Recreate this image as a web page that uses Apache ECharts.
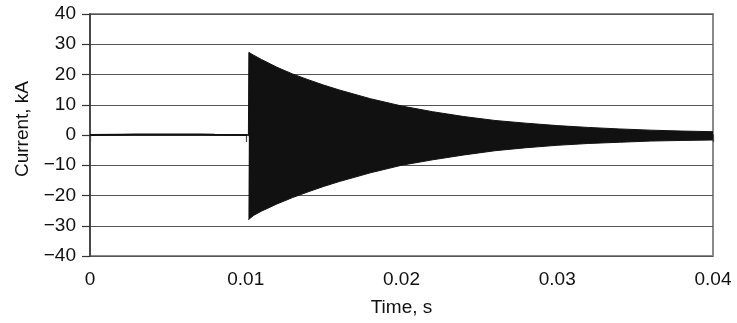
<!DOCTYPE html>
<html>
<head>
<meta charset="utf-8">
<script src="https://cdn.jsdelivr.net/npm/echarts@6/dist/echarts.min.js"></script>
<style>
  html, body { margin: 0; padding: 0; background: #fff; }
  #chart { width: 737px; height: 323px; }
</style>
</head>
<body>
<div id="chart"></div>
<script>
// Steady load current before the fault (s, kA)
const preFaultTime = [0, 0.002, 0.004, 0.006, 0.008, 0.0101];
const preFaultCurrent = [0.0, 0.1, 0.2, 0.2, 0.1, 0.0];

// Peak envelope of the fault current oscillation (s, kA)
const envelopeTime = [0.01017, 0.0102, 0.0105, 0.011, 0.012, 0.013, 0.014, 0.015, 0.016, 0.018,
                      0.020, 0.022, 0.024, 0.026, 0.028, 0.030, 0.032, 0.034, 0.036, 0.038, 0.040];
const upperPeak = [0, 27.3, 26.4, 25.0, 22.4, 20.2, 18.3, 16.5, 14.9, 12.0,
                   9.6, 7.7, 6.1, 4.8, 3.9, 3.1, 2.5, 2.0, 1.6, 1.3, 1.1];
const lowerPeak = [-28.0, -27.6, -26.6, -25.2, -22.8, -20.7, -18.8, -17.0, -15.4, -12.5,
                   -10.0, -8.2, -6.6, -5.2, -4.2, -3.4, -2.8, -2.4, -2.0, -1.8, -1.65];

const xTicks = { min: 0, max: 0.04, step: 0.01 };
const yTicks = { min: -40, max: 40, step: 10 };

const zip = (xs, ys) => xs.map((x, i) => [x, ys[i]]);
const FONT = 'Liberation Sans, Arial, Helvetica, sans-serif';
const BAND = '#111111';

const chart = echarts.init(document.getElementById('chart'), null, { renderer: 'canvas' });
chart.setOption({
  animation: false,
  grid: {
    left: 90, right: 24, top: 14, bottom: 67,
    show: true, borderColor: '#8a8a8a', borderWidth: 2, backgroundColor: 'transparent'
  },
  xAxis: {
    type: 'value',
    min: xTicks.min, max: xTicks.max, interval: xTicks.step,
    name: 'Time, s',
    nameLocation: 'middle',
    nameGap: 42,
    nameTextStyle: { fontFamily: FONT, fontSize: 19, color: '#111' },
    axisLine: { show: true, lineStyle: { color: '#444', width: 2 } },
    axisTick: { show: true, length: 7, lineStyle: { color: '#444', width: 1.2 } },
    axisLabel: {
      margin: 14, fontFamily: FONT, fontSize: 19, color: '#111',
      formatter: v => (v === 0 ? '0' : v.toFixed(2))
    },
    splitLine: { show: false }
  },
  yAxis: {
    type: 'value',
    min: yTicks.min, max: yTicks.max, interval: yTicks.step,
    name: 'Current, kA',
    nameLocation: 'middle',
    nameGap: 58,
    nameRotate: 90,
    nameTextStyle: { fontFamily: FONT, fontSize: 19, color: '#111', padding: [0, 0, 0, 12] },
    axisLine: { show: true, lineStyle: { color: '#333', width: 1.5 } },
    axisTick: { show: true, length: 8, lineStyle: { color: '#333', width: 1.2 } },
    axisLabel: {
      margin: 14, fontFamily: FONT, fontSize: 19, color: '#111',
      formatter: v => String(v).replace('-', '\u2212')
    },
    splitLine: { show: true, lineStyle: { color: '#555', width: 1.2 } }
  },
  series: [
    {
      name: 'pre-fault',
      type: 'line',
      data: zip(preFaultTime, preFaultCurrent),
      showSymbol: false,
      smooth: true,
      lineStyle: { color: '#111', width: 2 },
      z: 3
    },
    {
      name: 'upper envelope',
      type: 'line',
      data: zip(envelopeTime, upperPeak),
      showSymbol: false,
      lineStyle: { color: BAND, width: 1 },
      areaStyle: { color: BAND, opacity: 1, origin: -0.5 },
      z: 3
    },
    {
      name: 'lower envelope',
      type: 'line',
      data: zip(envelopeTime, lowerPeak),
      showSymbol: false,
      lineStyle: { color: BAND, width: 1 },
      areaStyle: { color: BAND, opacity: 1, origin: 0.5 },
      z: 3
    }
  ]
});
</script>
</body>
</html>
